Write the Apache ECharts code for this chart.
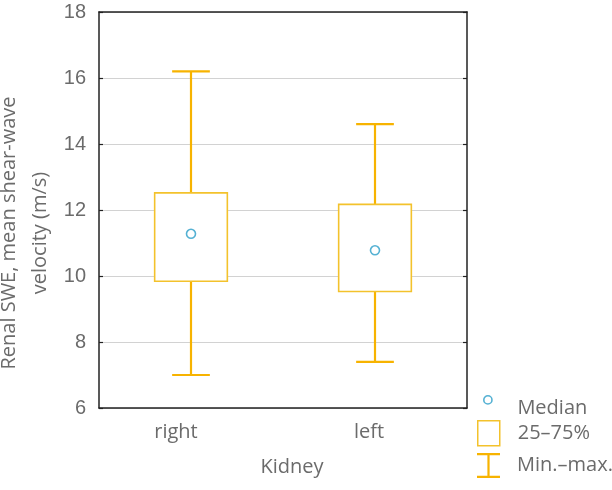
<!DOCTYPE html>
<html>
<head>
<meta charset="utf-8">
<script src="https://cdn.jsdelivr.net/npm/echarts@6/dist/echarts.min.js"></script>
<style>html,body{margin:0;padding:0;background:#fff;}#c{width:612px;height:490px;}</style>
</head>
<body>
<div id="c"></div>
<script>
const categories = ['right', 'left'];
const minVals = [7.0, 7.4];
const q1Vals = [9.84, 9.53];
const medianVals = [11.28, 10.78];
const q3Vals = [12.52, 12.17];
const maxVals = [16.2, 14.6];

const BOX = '#F3C22C';
const WHISK = '#F7B300';
const MED = '#2A9DC8';
const TXT = '#6b6b6b';
const FONT = 'Open Sans';

const boxData = categories.map((c, i) => [i, q1Vals[i], q3Vals[i]]);
const whiskData = categories.map((c, i) => [i, minVals[i], q1Vals[i], q3Vals[i], maxVals[i]]);
const medData = categories.map((c, i) => [i, medianVals[i]]);

const chart = echarts.init(document.getElementById('c'), null, {renderer: 'canvas'});
chart.setOption({
  animation: false,
  backgroundColor: '#fff',
  grid: {left: 99, right: 145, top: 12, bottom: 82, containLabel: false, outerBoundsMode: 'none'},
  xAxis: [{
    type: 'category',
    data: [
      {value: categories[0], textStyle: {padding: [0, 30, 0, 0]}},
      {value: categories[1], textStyle: {padding: [0, 12, 0, 0]}}
    ],
    position: 'bottom',
    axisLine: {lineStyle: {color: '#222', width: 1.5}},
    axisTick: {inside: true, alignWithLabel: true, length: 5, lineStyle: {color: '#222', width: 1.5}},
    axisLabel: {margin: 14, fontSize: 20, color: TXT, fontFamily: FONT},
    splitLine: {show: false},
    name: 'Kidney',
    nameLocation: 'middle',
    nameGap: 49,
    nameMoveOverlap: false,
    nameTextStyle: {fontSize: 20, color: TXT, fontFamily: FONT, padding: [0, 0, 0, 18]}
  }, {
    type: 'category',
    data: categories,
    position: 'top',
    axisLine: {lineStyle: {color: '#222', width: 1.5}},
    axisTick: {inside: true, alignWithLabel: true, length: 5, lineStyle: {color: '#222', width: 1.5}},
    axisLabel: {show: false},
    splitLine: {show: false}
  }],
  yAxis: [{
    type: 'value',
    min: 6, max: 18, interval: 2,
    axisLine: {show: true, lineStyle: {color: '#222', width: 1.5}},
    axisTick: {show: true, inside: true, length: 4, lineStyle: {color: '#222', width: 1.2}},
    axisLabel: {margin: 13, fontSize: 20, color: TXT, fontFamily: 'Liberation Sans'},
    splitLine: {show: true, lineStyle: {color: '#d2d2d2', width: 1}},
    name: 'Renal SWE, mean shear-wave\nvelocity (m/s)',
    nameLocation: 'middle',
    nameRotate: 90,
    nameGap: 43,
    nameMoveOverlap: false,
    nameTextStyle: {color: TXT, fontFamily: FONT, fontSize: 20, lineHeight: 31, padding: [0, 46, 0, 0]}
  }, {
    type: 'value',
    min: 6, max: 18, interval: 2,
    position: 'right',
    axisLine: {show: true, lineStyle: {color: '#222', width: 1.5}},
    axisTick: {show: true, inside: true, length: 4, lineStyle: {color: '#222', width: 1.2}},
    axisLabel: {show: false},
    splitLine: {show: false}
  }],
  legend: [{
    orient: 'vertical', left: 483, top: 395, padding: 0,
    itemWidth: 9, itemHeight: 25,
    data: [{name: 'Median',
      icon: 'path://M0.5,4.5A4,4 0 1 1 8.5,4.5A4,4 0 1 1 0.5,4.5Z M4.5,25L4.5,25',
      itemStyle: {color: '#fff', borderColor: MED, borderWidth: 1.6}}],
    textStyle: {fontSize: 20, color: TXT, fontFamily: FONT, padding: [0, 0, 0, 20]}
  }, {
    orient: 'vertical', left: 477, top: 420, padding: 0,
    itemWidth: 22, itemHeight: 25,
    data: [{name: '25–75%', icon: 'rect', itemStyle: {color: 'rgba(0,0,0,0)', borderColor: BOX, borderWidth: 1.5}}],
    textStyle: {fontSize: 20, color: TXT, fontFamily: FONT, padding: [4, 0, 0, 13]}
  }, {
    orient: 'vertical', left: 477, top: 453, padding: 0,
    itemWidth: 23, itemHeight: 25,
    data: [{name: 'Min.–max.', icon: 'path://M0,0H23V2.2H12.6V22.8H23V25H0V22.8H10.4V2.2H0Z', itemStyle: {color: WHISK}}],
    textStyle: {fontSize: 20, color: TXT, fontFamily: FONT, padding: [0, 0, 0, 12]}
  }],
  series: [{
    name: 'Min.–max.',
    type: 'custom',
    data: whiskData,
    itemStyle: {color: WHISK},
    encode: {x: 0, y: [1, 2, 3, 4]},
    renderItem: function (params, api) {
      const i = api.value(0);
      const pMin = api.coord([i, api.value(1)]);
      const pQ1 = api.coord([i, api.value(2)]);
      const pQ3 = api.coord([i, api.value(3)]);
      const pMax = api.coord([i, api.value(4)]);
      const cap = api.size([1, 0])[0] * 0.205 / 2;
      const st = {stroke: WHISK, lineWidth: 2.2, fill: null};
      return {type: 'group', children: [
        {type: 'line', shape: {x1: pMax[0], y1: pMax[1], x2: pQ3[0], y2: pQ3[1]}, style: st},
        {type: 'line', shape: {x1: pQ1[0], y1: pQ1[1], x2: pMin[0], y2: pMin[1]}, style: st},
        {type: 'line', shape: {x1: pMax[0] - cap, y1: pMax[1], x2: pMax[0] + cap, y2: pMax[1]}, style: st},
        {type: 'line', shape: {x1: pMin[0] - cap, y1: pMin[1], x2: pMin[0] + cap, y2: pMin[1]}, style: st}
      ]};
    },
    z: 3
  }, {
    name: '25–75%',
    type: 'custom',
    data: boxData,
    itemStyle: {color: BOX},
    encode: {x: 0, y: [1, 2]},
    renderItem: function (params, api) {
      const i = api.value(0);
      const pQ1 = api.coord([i, api.value(1)]);
      const pQ3 = api.coord([i, api.value(2)]);
      const w = api.size([1, 0])[0] * 0.395;
      return {type: 'rect', shape: {x: pQ3[0] - w / 2, y: pQ3[1], width: w, height: pQ1[1] - pQ3[1]},
        style: {fill: '#fff', stroke: BOX, lineWidth: 1.6}};
    },
    z: 4
  }, {
    name: 'Median',
    type: 'scatter',
    data: medData,
    symbol: 'circle',
    symbolSize: 9,
    itemStyle: {color: '#fff', borderColor: MED, borderWidth: 1.6},
    z: 5
  }]
});
</script>
</body>
</html>
